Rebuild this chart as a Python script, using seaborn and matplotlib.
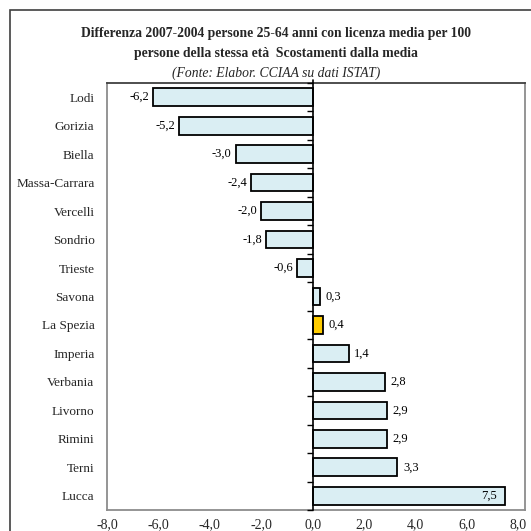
import matplotlib
matplotlib.use("Agg")
import matplotlib.pyplot as plt
from matplotlib.markers import TICKLEFT
from matplotlib.patches import Rectangle
import numpy as np
import pandas as pd
import seaborn as sns

province = ["Lodi", "Gorizia", "Biella", "Massa-Carrara", "Vercelli", "Sondrio",
            "Trieste", "Savona", "La Spezia", "Imperia", "Verbania", "Livorno",
            "Rimini", "Terni", "Lucca"]
scostamento = [-6.2, -5.2, -3.0, -2.4, -2.0, -1.8, -0.6, 0.3, 0.4, 1.4, 2.8,
               2.9, 2.9, 3.3, 7.5]
evidenziata = "La Spezia"
x_ticks = [-8, -6, -4, -2, 0, 2, 4, 6, 8]

BASE = "#DAEEF3"
HIGHLIGHT = "#FFCC00"

sns.set_theme(style="white")
plt.rcParams["font.family"] = ["Liberation Serif", "DejaVu Serif"]

df = pd.DataFrame({"provincia": province, "valore": scostamento})
palette = {p: (HIGHLIGHT if p == evidenziata else BASE) for p in province}

fig = plt.figure(figsize=(5.31, 5.31), dpi=100)
ax = fig.add_axes([107 / 531, 21 / 531, 418 / 531, 427 / 531])

sns.barplot(data=df, x="valore", y="provincia", hue="provincia", palette=palette,
            legend=False, orient="h", width=0.62, edgecolor="black",
            linewidth=1.3, saturation=1, ax=ax)

ax.set_xlim(-8, 8.26)
ax.set_ylim(len(province) - 0.5, -0.5)
ax.set_xticks(x_ticks)
ax.set_xticklabels([f"{t:.1f}".replace(".", ",") for t in x_ticks], fontsize=10)
ax.set_xlabel("")
ax.set_ylabel("")
ax.tick_params(axis="x", length=0, pad=6)
ax.tick_params(axis="y", length=0, pad=9, labelsize=9.5)
for name, s in ax.spines.items():
    s.set_color("#404040" if name == "top" else "#8c8c8c")
    s.set_linewidth(1.3)

# zero axis with tick marks between categories
ax.axvline(0, ymin=0, ymax=1.008, color="black", lw=1.2, zorder=3, clip_on=False)
ax.plot(np.zeros(len(province) + 1), np.arange(-0.5, len(province)),
        ls="none", marker=TICKLEFT, ms=4, mew=1, color="black", zorder=3,
        clip_on=False)

# value labels
for i, v in enumerate(scostamento):
    txt = f"{v:.1f}".replace(".", ",")
    if v < 0:
        off, ha = -3, "right"
    elif v > 6:
        off, ha = -6, "right"
    else:
        off, ha = 4, "left"
    ax.annotate(txt, xy=(v, i), xytext=(off, 0), textcoords="offset points",
                ha=ha, va="center", fontsize=9, color="black")

fig.text(0.52, 1 - 33 / 531, "Differenza 2007-2004 persone 25-64 anni con licenza media per 100",
         ha="center", va="center", fontsize=9.8, fontweight="bold")
fig.text(0.52, 1 - 53 / 531, "persone della stessa età  Scostamenti dalla media",
         ha="center", va="center", fontsize=9.8, fontweight="bold")
fig.text(0.52, 1 - 73 / 531, "(Fonte: Elabor. CCIAA su dati ISTAT)",
         ha="center", va="center", fontsize=9.8, style="italic")

fig.patches.append(Rectangle((10 / 531, -0.1), 1.2, 1.1 - 10 / 531,
                             transform=fig.transFigure, fill=False,
                             edgecolor="#404040", lw=1.2))

fig.savefig("out.png", dpi=100)
